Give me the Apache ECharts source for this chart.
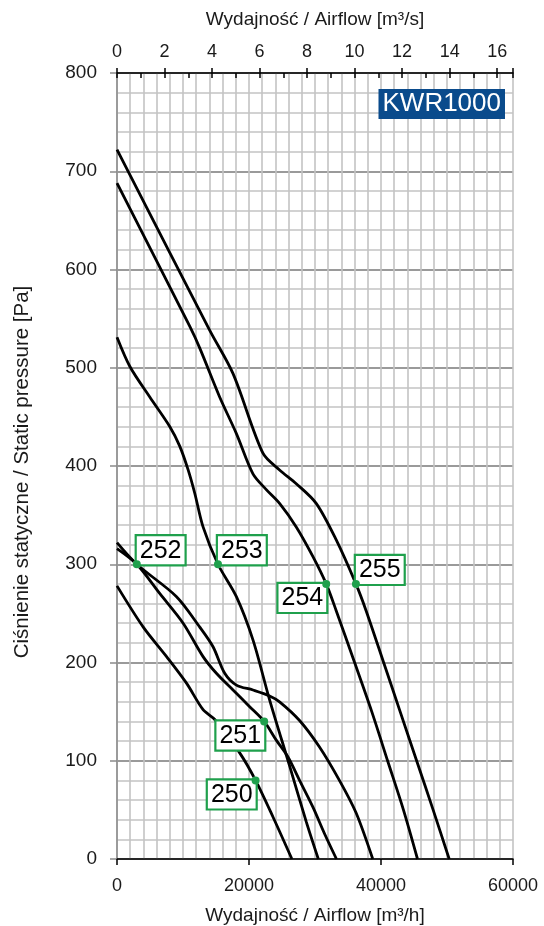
<!DOCTYPE html>
<html>
<head>
<meta charset="utf-8">
<script src="https://cdn.jsdelivr.net/npm/echarts@6/dist/echarts.min.js"></script>
<style>
  html, body { margin: 0; padding: 0; background: #fff; }
  #chart { width: 544px; height: 926px; }
</style>
</head>
<body>
<div id="chart"></div>
<script>
// fan curves: [airflow m3/h, static pressure Pa]
var curve250 = [[0, 278], [3980, 236], [7510, 206], [10530, 179], [13040, 152], [14810, 142], [18590, 108], [21000, 80], [23620, 43], [26500, 0]]
var curve251 = [[0, 316], [3000, 300], [6500, 270], [10020, 240], [13040, 206], [15060, 189], [17580, 172], [20100, 155], [22300, 140], [24130, 121], [25890, 104], [27660, 80], [29670, 53], [31430, 26], [33250, 0]]
var curve252 = [[0, 322], [3000, 300], [9020, 267], [12540, 236], [14550, 216], [16320, 189], [18090, 177], [20600, 172], [23120, 166], [24630, 160], [27660, 141], [30680, 114], [33700, 80], [36220, 47], [38750, 0]]
var curve253 = [[0, 531], [1970, 501], [4990, 470], [8010, 440], [9520, 420], [10780, 396], [11790, 372], [13040, 338], [15300, 300], [18090, 267], [20600, 223], [23120, 162], [26140, 95], [28670, 38], [30500, 0]]
var curve254 = [[0, 688], [11030, 542], [12540, 520], [15570, 470], [18090, 433], [20600, 392], [22620, 376], [24630, 362], [27160, 338], [29670, 308], [31700, 280], [33200, 253], [36000, 200], [38600, 150], [41000, 100], [43400, 50], [45530, 0]]
var curve255 = [[0, 722], [14050, 538], [17580, 494], [22110, 413], [24630, 396], [27160, 382], [30180, 362], [33200, 325], [36200, 280], [37730, 253], [40400, 200], [42900, 150], [45400, 100], [47900, 50], [50330, 0]]

var curveNames = ['250', '251', '252', '253', '254', '255']
var curves = [curve250, curve251, curve252, curve253, curve254, curve255]

// label dots [airflow, pressure] and which side the box sits on
var markerPoints = [[21000, 80], [22300, 140], [3000, 300], [15300, 300], [31700, 280], [36200, 280]]
var markerSide = ['left', 'left', 'right', 'right', 'left', 'right']

var flowMax = 60000
var flowTicks = 20000
var pressMax = 800
var pressTicks = 100
var m3sMax = flowMax / 3600

var chart = echarts.init(document.getElementById('chart'))
var font = 'Liberation Sans, Arial, sans-serif'
var green = '#1fa04c'
var lightGrid = '#c3c3c3'

var series = curves.map(function (c, i) {
  return {
    name: curveNames[i],
    type: 'line',
    xAxisIndex: 0,
    data: c,
    showSymbol: false,
    smooth: 0.3,
    lineStyle: { color: '#000', width: 2.8 },
    silent: true,
    z: 3
  }
})

// label boxes
series.push({
  type: 'scatter',
  xAxisIndex: 0,
  symbol: 'circle',
  symbolSize: 8,
  itemStyle: { color: '#fff' },
  silent: true,
  z: 5,
  data: markerPoints.map(function (p, i) {
    var right = markerSide[i] === 'right'
    return {
      value: p,
      name: curveNames[i],
      label: {
        align: right ? 'left' : 'right',
        verticalAlign: right ? 'bottom' : 'top'
      }
    }
  }),
  label: {
    show: true,
    formatter: '{b}',
    position: [4, 4],
    fontFamily: font,
    fontSize: 25,
    lineHeight: 25,
    color: '#000',
    opacity: 1,
    textBorderWidth: 0,
    backgroundColor: '#fff',
    borderColor: green,
    borderWidth: 2.2,
    padding: [2, 3, 1, 3]
  }
})

// green dots on top of the boxes
series.push({
  type: 'scatter',
  xAxisIndex: 0,
  symbol: 'circle',
  symbolSize: 8,
  itemStyle: { color: green, opacity: 1 },
  silent: true,
  z: 8,
  data: markerPoints
})

var option = {
  animation: false,
  backgroundColor: '#fff',
  textStyle: { fontFamily: font },
  title: {
    text: 'KWR1000',
    right: 39,
    top: 89,
    backgroundColor: '#0a4b8c',
    padding: [2, 4, 2, 4],
    textStyle: { color: '#fff', fontSize: 26, fontWeight: 'normal', fontFamily: font, lineHeight: 26 }
  },
  grid: { left: 117, right: 31, top: 73, bottom: 67, outerBoundsMode: 'none' },
  xAxis: [
    {
      type: 'value',
      position: 'bottom',
      min: 0,
      max: flowMax,
      interval: flowTicks,
      name: 'Wydajność / Airflow [m³/h]',
      nameLocation: 'middle',
      nameGap: 47,
      nameTextStyle: { fontSize: 19, color: '#1a1a1a', fontFamily: font },
      axisLine: { onZero: false, lineStyle: { color: '#000', width: 1.5 } },
      axisTick: { length: 6, lineStyle: { color: '#000', width: 1.5 } },
      axisLabel: {
        fontSize: 18, color: '#1a1a1a', margin: 18, fontFamily: font,
        formatter: function (v) { return String(v) }
      },
      splitLine: { show: true, lineStyle: { color: lightGrid, width: 1.6 } },
      minorTick: { show: false, splitNumber: 10 },
      minorSplitLine: { show: true, lineStyle: { color: lightGrid, width: 1.6 } }
    },
    {
      type: 'value',
      position: 'top',
      min: 0,
      max: m3sMax,
      interval: 2,
      name: 'Wydajność / Airflow [m³/s]',
      nameLocation: 'middle',
      nameGap: 44,
      nameTextStyle: { fontSize: 19, color: '#1a1a1a', fontFamily: font },
      axisLine: { onZero: false, lineStyle: { color: '#000', width: 1.5 } },
      axisTick: { inside: true, length: 5, lineStyle: { color: '#000', width: 1.5 } },
      minorTick: { show: true, splitNumber: 2, length: 5, lineStyle: { color: '#000', width: 1.5 } },
      axisLabel: { fontSize: 18, color: '#1a1a1a', margin: 12, fontFamily: font, showMaxLabel: false },
      splitLine: { show: false }
    },
    {
      type: 'value',
      position: 'top',
      min: 0,
      max: m3sMax,
      interval: 2,
      axisLine: { show: false, onZero: false },
      axisTick: { show: true, length: 5, lineStyle: { color: '#000', width: 1.5 } },
      axisLabel: { show: false },
      splitLine: { show: false }
    }
  ],
  yAxis: {
    type: 'value',
    min: 0,
    max: pressMax,
    interval: pressTicks,
    name: 'Ciśnienie statyczne / Static pressure [Pa]',
    nameLocation: 'middle',
    nameGap: 84,
    nameTextStyle: { fontSize: 20.5, color: '#1a1a1a', fontFamily: font, padding: [0, 12, 0, 0] },
    axisLine: { show: true, onZero: false, lineStyle: { color: '#8a8a8a', width: 1.5 } },
    axisTick: { show: true, length: 7, lineStyle: { color: '#8a8a8a', width: 1.5 } },
    axisLabel: { fontSize: 19, color: '#1a1a1a', margin: 20, fontFamily: font },
    splitLine: { show: true, lineStyle: { color: '#9a9a9a', width: 1.8 } },
    minorTick: { show: false, splitNumber: 5 },
    minorSplitLine: { show: true, lineStyle: { color: lightGrid, width: 1.6 } }
  },
  series: series
}

chart.setOption(option)
</script>
</body>
</html>
